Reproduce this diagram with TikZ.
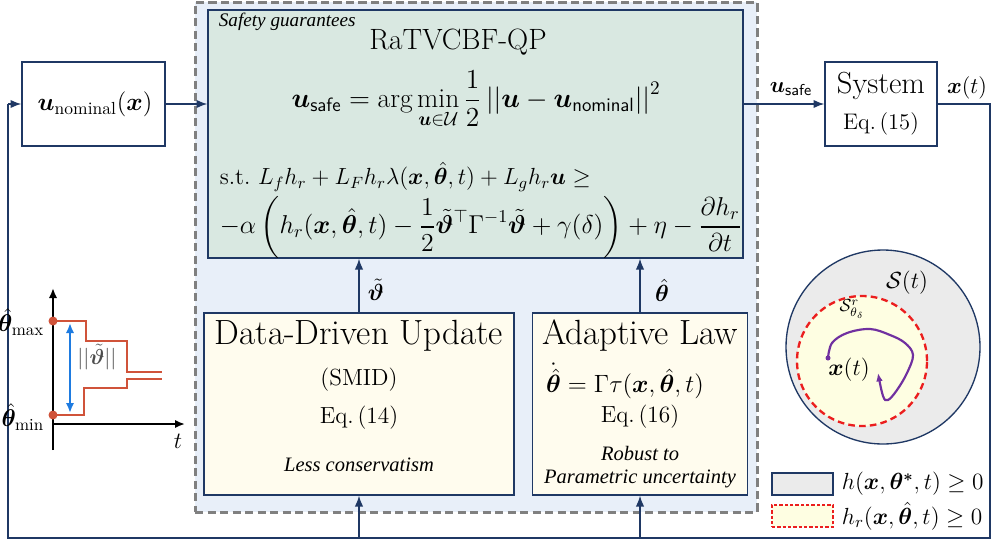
\RequirePackage{fix-cm}
\documentclass[tikz,border=0pt]{standalone}
\usepackage{amsmath,amssymb,bm}
\usepackage{fontspec}
\newfontfamily\tmsfont{Liberation Serif}
\usetikzlibrary{arrows.meta}
\definecolor{navy}{RGB}{31,56,100}
\definecolor{dgray}{RGB}{128,128,128}
\definecolor{lblue}{RGB}{232,239,249}
\definecolor{sage}{RGB}{217,232,225}
\definecolor{cream}{RGB}{255,252,238}
\definecolor{cream2}{RGB}{254,254,226}
\definecolor{cgray}{RGB}{235,235,235}
\definecolor{rorange}{RGB}{208,83,58}
\definecolor{barblue}{RGB}{30,123,224}
\definecolor{traj}{RGB}{112,48,160}
\definecolor{dashred}{RGB}{235,30,30}
\tikzset{
  blk/.style={draw=navy, line width=0.8pt, inner sep=0pt},
  arr/.style={draw=navy, line width=0.8pt, -{Latex[length=6.5pt,width=5pt]}},
  fb/.style={draw=navy, line width=0.8pt},
  axisline/.style={line width=1.5pt, -{Latex[length=6pt,width=5pt]}},
  redl/.style={draw=rorange, line width=1.3pt},
  itx/.style={font=\tmsfont\itshape\fontsize{12.3}{14}\selectfont},
}
\begin{document}
\begin{tikzpicture}[x=0.6pt,y=-0.6pt]
\useasboundingbox (0,0) rectangle (996,546);

% dashed safety region
\node[draw=dgray, dash pattern=on 5pt off 2.5pt, line width=1.8pt, fill=lblue,
      minimum width=337.2pt, minimum height=306pt, inner sep=0pt] (region) at (476,257) {};

% main QP box
\node[blk, fill=sage, minimum width=321pt, minimum height=148.8pt] (qp) at (475.5,134) {};
\node[itx, font=\tmsfont\itshape\fontsize{11.5}{13}\selectfont, anchor=west] (sg) at (213,22) {Safety guarantees};
\node[font=\fontsize{17.6}{20}\selectfont] (title) at (458,42) {RaTVCBF-QP};
\node[font=\fontsize{16.5}{20}\selectfont] (opt) at (476,100)
  {$\displaystyle \bm{u}_{\mathsf{safe}} = \arg\min_{\bm{u}\in\mathcal{U}} \frac{1}{2}\left|\left|\bm{u}-\bm{u}_{\mathsf{nominal}}\right|\right|^2$};
\node[font=\fontsize{14}{17}\selectfont, anchor=west] (st1) at (214,177)
  {s.t.\ $L_f h_r + L_F h_r \lambda(\bm{x},\bm{\hat{\theta}},t) + L_g h_r \bm{u} \geq$};
\node[font=\fontsize{15.5}{19}\selectfont, anchor=west] (st2) at (214,227)
  {$\displaystyle -\alpha\left(h_r(\bm{x},\bm{\hat{\theta}},t) - \frac{1}{2}\bm{\tilde{\vartheta}}^{\top}\Gamma^{-1}\bm{\tilde{\vartheta}} + \gamma(\delta)\right) + \eta - \frac{\partial h_r}{\partial t}$};

% nominal controller
\node[blk, fill=white, minimum width=85.8pt, minimum height=50.4pt] (unom) at (93.5,104) {};
\node[font=\fontsize{15}{18}\selectfont] (unomt) at (95,104) {$\bm{u}_{\mathrm{nominal}}(\bm{x})$};

% system
\node[blk, fill=white, minimum width=67.2pt, minimum height=50.4pt] (sys) at (881,104) {};
\node[font=\fontsize{18.3}{21}\selectfont] (syst) at (881,86) {System};
\node[font=\fontsize{13.5}{15}\selectfont] (syseq) at (881,124) {Eq.\,(15)};

% data-driven update
\node[blk, fill=cream, minimum width=186pt, minimum height=109.2pt] (data) at (359,404) {};
\node[font=\fontsize{21}{24}\selectfont] (ddu) at (359,336) {Data-Driven Update};
\node[font=\fontsize{14}{16}\selectfont] (smid) at (359,380) {(SMID)};
\node[font=\fontsize{14}{16}\selectfont] (eq14) at (359,418) {Eq.\,(14)};
\node[itx] (lc) at (359,465) {Less conservatism};

% adaptive law
\node[blk, fill=cream, minimum width=129pt, minimum height=109.2pt] (adapt) at (640,404) {};
\node[font=\fontsize{21}{24}\selectfont] (al) at (640,336) {Adaptive Law};
\node[font=\fontsize{15}{18}\selectfont] (aleq) at (625,381) {$\dot{\bm{\hat{\theta}}} = \Gamma\tau(\bm{x},\bm{\hat{\theta}},t)$};
\node[font=\fontsize{14}{16}\selectfont] (eq16) at (640,417) {Eq.\,(16)};
\node[itx] (rb1) at (640,453) {Robust to};
\node[itx] (rb2) at (640,479) {Parametric uncertainty};

% connectors
\coordinate (fbR) at (990,104);
\coordinate (fbBR) at (990,538);
\coordinate (fbBL) at (8,538);
\coordinate (fbL) at (8,104);
\draw[arr] (unom.east) -- (qp.west |- unom.east);
\draw[arr] (qp.east |- sys.west) -- (sys.west);
\node[font=\fontsize{13.5}{15}\selectfont] (usafe) at (791,89) {$\bm{u}_{\mathsf{safe}}$};
\node[font=\fontsize{13.5}{15}\selectfont] (xt) at (967,88) {$\bm{x}(t)$};
\draw[fb] (sys.east) -- (fbR) -- (fbBR) -- (fbBL) -- (fbL);
\draw[arr] (fbL) -- (unom.west);
\draw[arr] (data.south |- fbBL) -- (data.south);
\draw[arr] (adapt.south |- fbBL) -- (adapt.south);
\draw[arr] (data.north) -- (data.north |- qp.south);
\draw[arr] (adapt.north) -- (adapt.north |- qp.south);
\node[font=\fontsize{14}{16}\selectfont] (vt) at (376,290) {$\bm{\tilde{\vartheta}}$};
\node[font=\fontsize{14}{16}\selectfont] (th) at (662,290) {$\bm{\hat{\theta}}$};

% left plot
\draw[axisline] (53,450) -- (53,288);
\draw[axisline] (53,424) -- (185,424);
\node[font=\fontsize{14}{16}\selectfont] (tl) at (178,441) {$t$};
\draw[redl] (53,321) -- (86,321) -- (86,341) -- (127,341) -- (127,372) -- (162,372);
\draw[redl] (53,415) -- (84,415) -- (84,388) -- (127,388) -- (127,379) -- (162,379);
\fill[rorange] (53,321) circle (2.7pt);
\fill[rorange] (53,415) circle (2.7pt);
\draw[draw=barblue, line width=1.5pt, {Latex[length=6pt,width=5pt]}-{Latex[length=6pt,width=5pt]}] (70,323) -- (70,413);
\node[font=\fontsize{13}{15}\selectfont, text=black!70] (nv) at (97,357) {$||\bm{\tilde{\vartheta}}||$};
\node[font=\fontsize{14.5}{16}\selectfont, anchor=east] (tmax) at (50,322) {$\bm{\hat{\theta}}_{\max}$};
\node[font=\fontsize{14.5}{16}\selectfont, anchor=east] (tmin) at (50,417) {$\bm{\hat{\theta}}_{\min}$};

% safe sets
\node[circle, draw=navy, line width=0.8pt, fill=cgray, minimum size=116.4pt, inner sep=0pt] (outer) at (883,347) {};
\node[circle, draw=dashred, dash pattern=on 4pt off 2.5pt, line width=1.4pt, fill=cream2, minimum size=78pt, inner sep=0pt] (inner) at (862,361) {};
\node[font=\fontsize{14}{16}\selectfont] (st) at (907,283) {$\mathcal{S}(t)$};
\node[font=\fontsize{10.5}{12}\selectfont] (sr) at (852,309) {$\mathcal{S}^{r}_{\theta_\delta}$};
\draw[draw=traj, line width=1.3pt, -{Latex[length=5pt,width=4pt]}] plot[smooth, tension=0.6] coordinates
  {(828,358) (832,343) (847,333) (870,329) (890,335) (905,343) (913,355) (907,373) (897,390) (888,400) (883,396) (878,373)};
\fill[traj] (828,358) circle (1.5pt);
\node[font=\fontsize{14}{16}\selectfont] (xin) at (849,370) {$\bm{x}(t)$};

% legend
\node[draw=navy, line width=0.8pt, fill=cgray, minimum width=36.6pt, minimum height=13.2pt, inner sep=0pt] (leg1) at (802.5,484) {};
\node[draw=dashred, dash pattern=on 2pt off 1.2pt, line width=0.9pt, fill=cream2, minimum width=36.6pt, minimum height=13.2pt, inner sep=0pt] (leg2) at (802.5,516) {};
\node[font=\fontsize{14}{16}\selectfont, anchor=west] (leg1t) at (836,484) {$h(\bm{x},\bm{\theta^{*}},t)\geq 0$};
\node[font=\fontsize{14}{16}\selectfont, anchor=west] (leg2t) at (836,516) {$h_r(\bm{x},\bm{\hat{\theta}},t)\geq 0$};
\end{tikzpicture}
\end{document}
